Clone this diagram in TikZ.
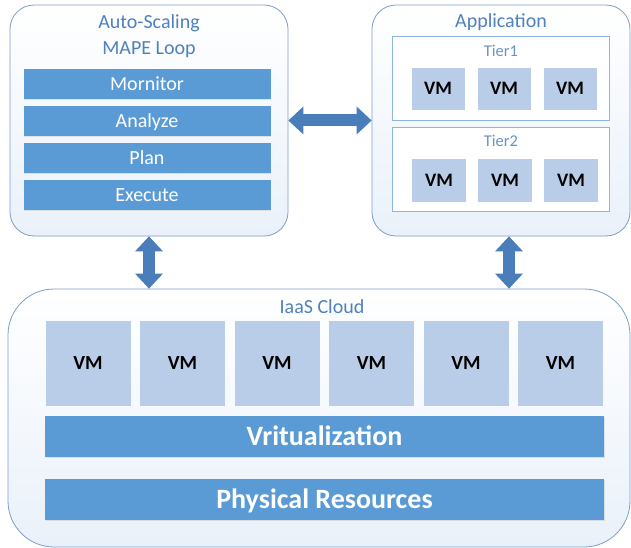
\documentclass[tikz,border=0pt]{standalone}
\usepackage{fontspec}
\setmainfont{Carlito}
\usetikzlibrary{arrows.meta,shadows}
\definecolor{barblue}{RGB}{91,155,213}
\definecolor{vmblue}{RGB}{186,205,232}
\definecolor{arrowblue}{RGB}{74,126,187}
\definecolor{titleblue}{RGB}{79,129,189}
\definecolor{frameblue}{RGB}{127,157,198}
\definecolor{tierblue}{RGB}{142,180,227}
\definecolor{panelfill}{RGB}{234,241,250}
\begin{document}
\begin{tikzpicture}[x=1pt,y=-1pt,
  panel/.style={draw=frameblue,line width=0.8pt,rounded corners=#1,top color=white,bottom color=panelfill,inner sep=0pt},
  tier/.style={draw=tierblue,line width=0.8pt,fill=white,minimum width=217pt,minimum height=84pt,inner sep=0pt},
  title/.style={titleblue,anchor=base,font=\fontsize{20}{24}\selectfont},
  tiertitle/.style={titleblue!85!white,anchor=base,font=\fontsize{16.5}{20}\selectfont},
  bar/.style={fill=barblue,text=white,inner sep=0pt,drop shadow={opacity=0.18,shadow xshift=0.6pt,shadow yshift=-1.2pt}},
  vm/.style={fill=vmblue,inner sep=0pt,font=\bfseries\fontsize{19}{22}\selectfont,text height=12pt,text depth=0pt},
  fatarrow/.style={arrowblue,line width=12pt,{Triangle[width=28pt,length=15pt,line width=0pt]}-{Triangle[width=28pt,length=15pt,line width=0pt]}}]
\useasboundingbox (0,0) rectangle (631,548);
\node[panel=24pt,minimum width=278pt,minimum height=231pt] (mape) at (149,120.5) {};
\node[panel=24pt,minimum width=258pt,minimum height=231pt] (app) at (501,120.5) {};
\node[panel=46pt,minimum width=622pt,minimum height=258pt] (iaas) at (319,418) {};
\node[title] (mapetitle) at (149,29) {Auto-Scaling};
\node[title] (looptitle) at (149,55) {MAPE Loop};
\foreach \name/\txt [count=\i] in {mon/Mornitor,ana/Analyze,pla/Plan,exe/Execute} {
  \node[bar,minimum width=247pt,minimum height=30pt,font=\fontsize{20}{24}\selectfont,text height=13pt,text depth=0pt] (\name) at (147,84+37*\i-37) {\txt};
}
\node[title] (apptitle) at (501,28) {Application};
\node[tier] (tier1) at (501,78) {};
\node[tier] (tier2) at (501,169.5) {};
\node[tiertitle] (t1title) at (501,57) {Tier1};
\node[tiertitle] (t2title) at (501,147) {Tier2};
\foreach \x [count=\i] in {438,504,570} {
  \node[vm,minimum width=53pt,minimum height=42pt] (avm\i) at (\x,89) {VM};
  \node[vm,minimum width=54pt,minimum height=43pt] (bvm\i) at (\x+1,180.5) {VM};
}
\node[title] (iaastitle) at (322,313) {IaaS Cloud};
\foreach \i in {1,...,6} {
  \node[vm,minimum width=85pt,minimum height=85pt,font=\bfseries\fontsize{20}{24}\selectfont] (cvm\i) at (88+94.5*\i-94.5,363.5) {VM};
}
\node[bar,minimum width=559pt,minimum height=41pt,font=\bfseries\fontsize{28}{32}\selectfont,text height=18pt,text depth=0pt] (virt) at (324.5,436.5) {Vritualization};
\node[bar,minimum width=559pt,minimum height=41pt,font=\bfseries\fontsize{28}{32}\selectfont,text height=18pt,text depth=0pt] (phys) at (324.5,499.5) {Physical Resources};
\coordinate (appdown) at ([xshift=8pt]app.south);
\draw[fatarrow] (mape.east) -- (app.west);
\draw[fatarrow] (mape.south) -- (mape.south |- iaas.north);
\draw[fatarrow] (appdown) -- (appdown |- iaas.north);
\end{tikzpicture}
\end{document}
